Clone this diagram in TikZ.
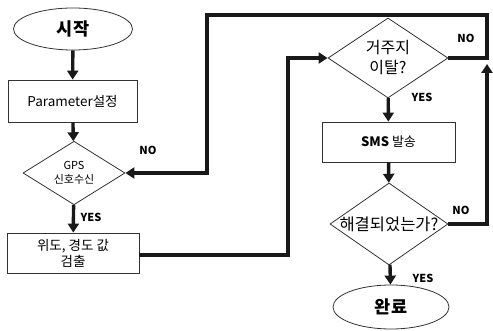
\documentclass[tikz,border=0pt]{standalone}
\usepackage{fontspec}
\setmainfont{Noto Sans CJK KR}
\usetikzlibrary{shapes.geometric,arrows.meta}
\tikzset{
  box/.style={draw=black!80, line width=0.8pt, rectangle, inner sep=1pt, align=center, font=\fontsize{13.5}{15}\selectfont},
  term/.style={draw=black!80, line width=0.8pt, ellipse, inner sep=0pt, font=\fontsize{17.5}{19}\selectfont\bfseries},
  dec/.style={draw=black!80, line width=0.8pt, diamond, inner sep=0pt, align=center},
  conn/.style={draw=black!90, line width=3.4pt, -{Triangle[length=9pt,width=11pt]}},
  lab/.style={font=\fontsize{11}{12}\selectfont\bfseries, inner sep=0pt}
}
\begin{document}
\begin{tikzpicture}[x=1pt,y=-1pt]
\useasboundingbox (0,0) rectangle (493,331);
\node[term, minimum width=119pt, minimum height=42pt] (start) at (73,29) {시작};
\node[box, minimum width=129pt, minimum height=42pt] (param) at (72.5,101) {Parameter설정};
\node[dec, minimum width=102pt, minimum height=60pt, font=\fontsize{11}{14}\selectfont] (gps) at (74,173) {GPS\\신호수신};
\node[box, minimum width=132pt, minimum height=40pt, font=\fontsize{13.5}{16}\selectfont] (coord) at (73,253) {위도, 경도 값\\검출};
\node[dec, minimum width=120pt, minimum height=80pt, font=\fontsize{16}{20}\selectfont] (q1) at (388,58) {거주지\\이탈?};
\node[box, minimum width=133pt, minimum height=40pt, font=\fontsize{13}{15}\selectfont] (sms) at (388.5,142) {\textbf{SMS} 발송};
\node[dec, minimum width=118pt, minimum height=82pt] (q2) at (389,224) {};
\node[font=\fontsize{16.5}{18}\selectfont, inner sep=0pt] (q2t) at (389,224) {해결되었는가?};
\node[term, minimum width=116pt, minimum height=44pt] (end) at (391,307) {완료};

\coordinate (c1) at (288,255);
\coordinate (r1) at (487,58);
\coordinate (r2) at (487,15);
\coordinate (r3) at (207,15);
\coordinate (r4) at (207,173);
\coordinate (r5) at (487,224);
\coordinate (r6) at (487,64);

\draw[conn] (start) -- (param);
\draw[conn] (param) -- (gps);
\draw[conn] (gps) -- (coord);
\draw[conn] (coord.east |- c1) -- (c1) |- (q1.west);
\draw[conn] (q1.east) -- (r1) -- (r2) -- (r3) -- (r4) -- (gps.east);
\draw[conn] (q1) -- (sms);
\draw[conn] (sms) -- (q2);
\draw[conn] (q2.east) -- (r5) -- (r6);
\draw[conn] (q2) -- (end);

\node[lab] (n1) at (148,150) {NO};
\node[lab] (n2) at (466,38) {NO};
\node[lab] (y1) at (91,217) {YES};
\node[lab] (y2) at (422,97) {YES};
\node[lab] (n3) at (461,210) {NO};
\node[lab] (y3) at (423,278) {YES};
\end{tikzpicture}
\end{document}
